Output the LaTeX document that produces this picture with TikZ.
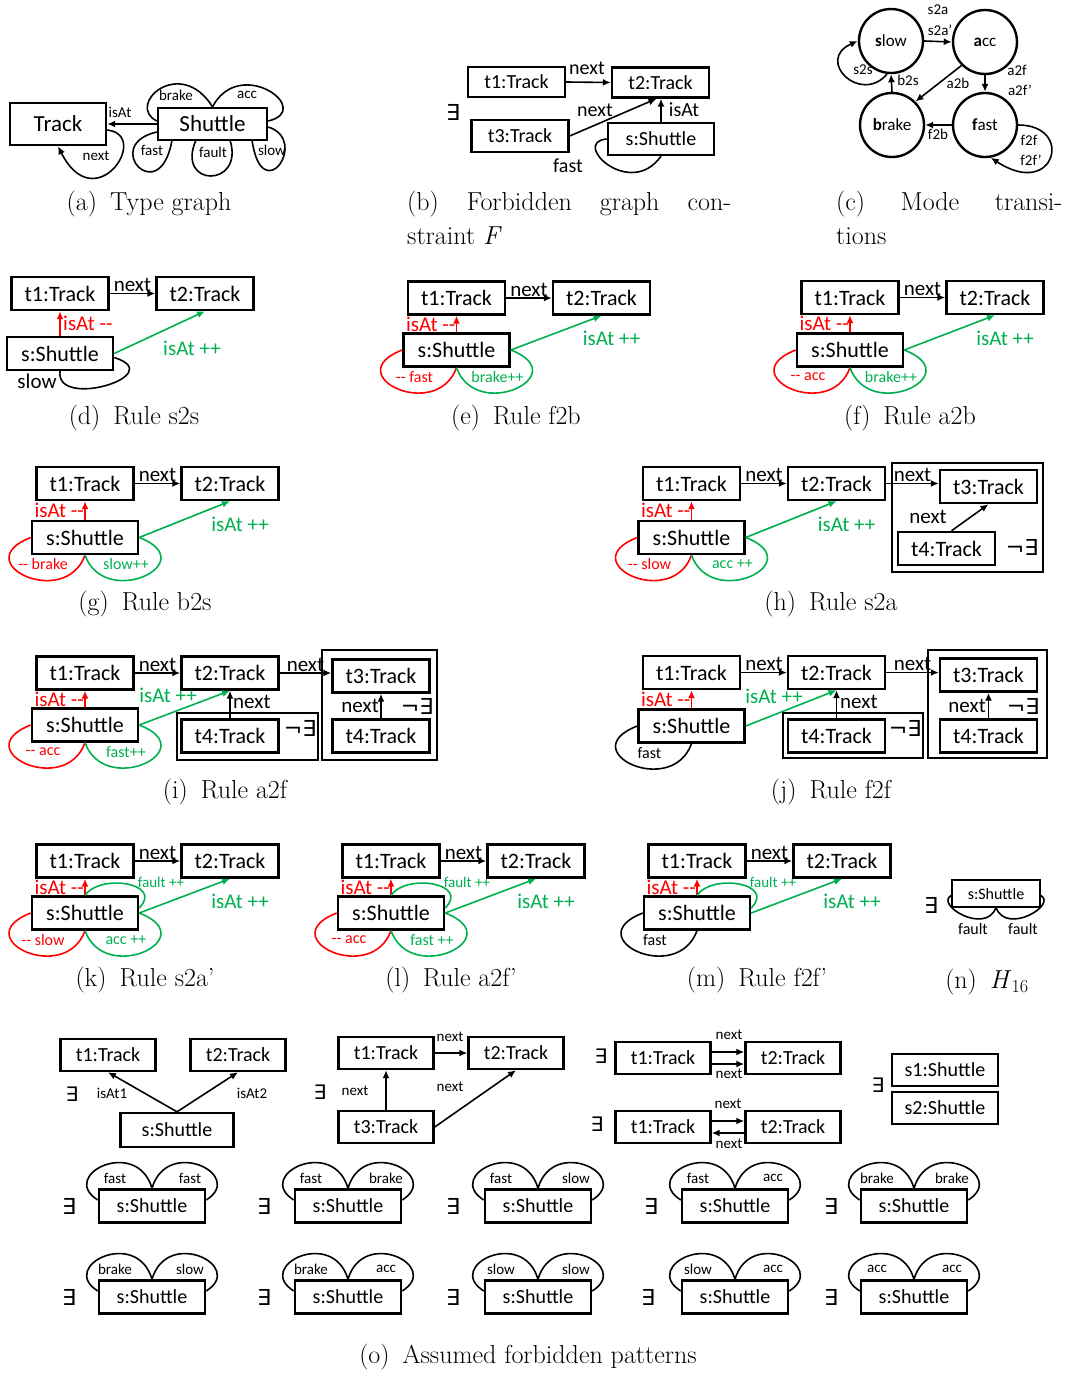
\documentclass[tikz,border=0pt]{standalone}
\usepackage{fontspec}
\newfontfamily\carl{Carlito}
\newfontfamily\djv{DejaVu Sans}
\usetikzlibrary{arrows.meta,calc}
\newcommand\fsz[1]{\fontsize{#1}{#1}\selectfont}
\newcommand\dmm{-\kern0pt-}
\definecolor{rd}{RGB}{255,0,0}
\definecolor{gn}{RGB}{0,176,80}
\tikzset{
 tb/.style={draw, line width=2.4pt, minimum width=97pt, minimum height=33pt, inner sep=0pt, font=\carl\fsz{22}},
 sb/.style={tb, minimum width=106pt},
 arr/.style={-{Latex[length=8pt,width=7pt]}, line width=1.6pt},
 lbl/.style={font=\carl\fsz{21}, inner sep=0pt},
 sml/.style={font=\carl\fsz{16}, inner sep=0pt},
 tinyl/.style={font=\carl\fsz{15}, inner sep=0pt},
 lp/.style={line width=1.6pt},
 captxt/.style={font=\fsz{26}, inner sep=0pt},
 nac/.style={draw, line width=2.4pt},
 exq/.style={font=\djv\fsz{22}, inner sep=0pt},
 circ/.style={circle, draw, line width=2.4pt, minimum size=64pt, inner sep=0pt, font=\carl\fsz{17}},
}
\newcommand\rbase[4]{%
 \node[tb] (#1t1) at (#2,-#3) {t1:Track};
 \node[tb] (#1t2) at ({#2+145},-#3) {t2:Track};
 \node[sb] (#1s) at (#2,-#4) {s:Shuttle};
 \draw[arr] (#1t1.east) -- (#1t2.west) node[lbl, midway, above=1pt] (#1nx) {next};
 \draw[arr, rd] (#1s.north) -- (#1t1.south);
 \draw[arr, gn] (#1s.east) -- (#1t2.south);
}
\newcommand\isl[1]{\node[lbl, text=rd, anchor=east] (#1ia) at ($(#1s.north)!.5!(#1t1.south)+(-1,0)$) {isAt \dmm};}
\newcommand\lowL[3]{%
 \draw[lp,#2] (#1.west) .. controls ($(#1.west)+(-65,-25)$) and ($(#1.south)+(-20,-55)$) .. (#1.south);
 \node[sml, text=#2] (#1ll) at ($(#1.south)+(-42,-9)$) {#3};}
\newcommand\lowR[3]{%
 \draw[lp,#2] (#1.south) .. controls ($(#1.south)+(20,-55)$) and ($(#1.east)+(65,-25)$) .. (#1.east);
 \node[sml, text=#2] (#1lr) at ($(#1.south)+(41,-9)$) {#3};}
\newcommand\upF[1]{%
 \draw[lp,gn] (#1.north) .. controls ($(#1.north)+(15,22)$) and ($(#1.east)+(25,30)$) .. ($(#1.east)+(0,5)$);
 \node[tinyl, text=gn] (#1lf) at ($(#1.north)+(76,13)$) {fault ++};}
\newcommand\fpat[6]{%
 \node[sb, font=\carl\fsz{20}] (#1) at (#2,-#3) {s:Shuttle};
 \node[exq] (#1e) at (#6,-#3) {∃};
 \draw[lp] ($(#1.west)+(0,6)$) .. controls ($(#1.west)+(-40,31)$) and ($(#1.north)+(-15,52)$) .. (#1.north);
 \draw[lp] (#1.north) .. controls ($(#1.north)+(15,52)$) and ($(#1.east)+(40,31)$) .. ($(#1.east)+(0,6)$);
 \node[tinyl] (#1a) at ($(#1)+(-37,28)$) {#4};
 \node[tinyl] (#1b) at ($(#1)+(38,28)$) {#5};}
\begin{document}
\begin{tikzpicture}[x=1pt,y=1pt]
\useasboundingbox[fill=white] (0,0) rectangle (1068,-1376);
% ---------- (a)
\node[draw, line width=2.4pt, minimum width=96pt, minimum height=42pt, inner sep=0pt, font=\carl\fsz{23}] (tr) at (58,-124) {Track};
\node[draw, line width=2.4pt, minimum width=109pt, minimum height=32pt, inner sep=0pt, font=\carl\fsz{23}] (sh) at (212.5,-124) {Shuttle};
\draw[arr] (sh.west) -- (tr.east);
\node[tinyl] (aisat) at (120,-112) {isAt};
\draw[arr] ([yshift=-6pt]tr.east) .. controls (152,-135) and (95,-220) .. (tr.south);
\node[tinyl] (anext) at (96,-156) {next};
\draw[lp] ([yshift=3pt]sh.west) .. controls (125,-105) and (180,-55) .. (sh.north);
\draw[lp] (sh.north) .. controls (240,-55) and (315,-110) .. ([yshift=3pt]sh.east);
\draw[lp] ([yshift=-8pt]sh.west) .. controls (100,-145) and (160,-210) .. (172,-140);
\draw[lp] (196,-140) .. controls (175,-188) and (245,-188) .. (230,-140);
\draw[lp] ([yshift=-3pt]sh.east) .. controls (310,-140) and (262,-210) .. (252,-140);
\node[tinyl] (abr) at (176,-95) {brake};
\node[tinyl] (aac) at (247,-95) {acc};
\node[tinyl] (afa) at (152,-150) {fast};
\node[tinyl] (afu) at (213,-152) {fault};
\node[tinyl] (asl) at (272,-150) {slow};
\node[captxt] (capa) at (149,-204) {(a)\enspace Type graph};
% ---------- (b)
\node[tb, minimum height=30pt, font=\carl\fsz{20}] (bt1) at (516.5,-82) {t1:Track};
\node[tb, minimum height=30pt, font=\carl\fsz{20}] (bt2) at (660.5,-82.5) {t2:Track};
\node[tb, minimum height=32pt, font=\carl\fsz{20}] (bt3) at (520,-136) {t3:Track};
\node[sb, minimum height=32pt, font=\carl\fsz{20}] (bs) at (661,-139) {s:Shuttle};
\node[exq] (bex) at (453,-112) {∃};
\draw[arr] (bt1.east) -- (bt2.west);
\node[font=\carl\fsz{20}, inner sep=0pt] (bn1) at (587,-68) {next};
\draw[arr] (bt3.east) -- ([xshift=-4pt]bt2.south);
\node[font=\carl\fsz{20}, inner sep=0pt] (bn2) at (595,-110) {next};
\draw[arr] (bs.north) -- (bs.north |- bt2.south);
\node[font=\carl\fsz{20}, inner sep=0pt] (bia) at (684,-110) {isAt};
\draw[lp] (bs.west) .. controls (570,-142) and (630,-200) .. (bs.south);
\node[font=\carl\fsz{20}, inner sep=0pt] (bfa) at (568,-166) {fast};
\node[captxt, anchor=west] (capb1) at (407,-204) {\makebox[324pt][s]{(b) Forbidden graph con-}};
\node[captxt, anchor=west] (capb2) at (407,-236) {straint \textit{F}};
% ---------- (c)
\node[circ] (cslow) at (891,-41) {\textbf{s}low};
\node[circ] (cacc) at (985,-42) {\textbf{a}cc};
\node[circ] (cbrake) at (892,-125) {\textbf{b}rake};
\node[circ] (cfast) at (985,-125) {\textbf{f}ast};
\draw[arr] (cslow.east) -- (cacc.west);
\draw[arr] (cacc.south) -- (cfast.north);
\draw[arr] (cacc.225) -- (cbrake.45);
\draw[arr] (cfast.west) -- (cbrake.east);
\draw[arr] (cbrake.north) -- (cslow.south);
\draw[arr] ([xshift=-4pt]cslow.south) .. controls (860,-105) and (815,-60) .. (cslow.west);
\draw[arr] (cfast.east) .. controls (1075,-125) and (1055,-200) .. (cfast.-80);
\node[tinyl] (cl1) at (938,-10) {s2a};
\node[tinyl] (cl2) at (940,-30) {s2a’};
\node[tinyl] (cl3) at (1017,-70) {a2f};
\node[tinyl] (cl4) at (1020,-90) {a2f’};
\node[tinyl] (cl5) at (958,-83) {a2b};
\node[tinyl] (cl6) at (938,-134) {f2b};
\node[tinyl] (cl7) at (908,-80) {b2s};
\node[tinyl] (cl8) at (863,-70) {s2s};
\node[tinyl] (cl9) at (1029,-140) {f2f};
\node[tinyl] (cl10) at (1031,-160) {f2f’};
\node[captxt, anchor=west] (capc1) at (836,-204) {\makebox[226pt][s]{(c) Mode transi-}};
\node[captxt, anchor=west] (capc2) at (836,-236) {tions};
% ---------- (d)
\rbase{d}{60}{293.5}{353.5}
\node[lbl, text=rd, anchor=west] (dia) at ($(ds.north)!.5!(dt1.south)+(3,0)$) {isAt \dmm};
\node[lbl, text=gn] (dib) at ($(dt2.south)+(-13,-37)$) {isAt ++};
\draw[lp] ([yshift=-4pt]ds.east) .. controls (170,-375) and (55,-410) .. (ds.south);
\node[lbl] (dsl) at (37,-381) {slow};
\node[captxt] (capd) at (134,-418) {(d)\enspace Rule s2s};
% ---------- (e)
\rbase{e}{456.5}{298}{350}
\isl{e}
\node[lbl, text=gn] (eib) at ($(et2.south)+(10,-23)$) {isAt ++};
\lowL{es}{rd}{\dmm{} fast}
\lowR{es}{gn}{brake++}
\node[captxt] (cape) at (516,-418) {(e)\enspace Rule f2b};
% ---------- (f)
\rbase{f}{850}{297.5}{350}
\isl{f}
\node[lbl, text=gn] (fib) at ($(ft2.south)+(10,-23)$) {isAt ++};
\lowL{fs}{rd}{\dmm{} acc}
\lowR{fs}{gn}{brake++}
\node[captxt] (capf) at (910,-418) {(f)\enspace Rule a2b};
% ---------- (g)
\rbase{g}{85}{483.5}{537.5}
\isl{g}
\node[lbl, text=gn] (gib) at ($(gt2.south)+(10,-23)$) {isAt ++};
\lowL{gs}{rd}{\dmm{} brake}
\lowR{gs}{gn}{slow++}
\node[captxt] (capg) at (145,-604) {(g)\enspace Rule b2s};
% ---------- (h)
\rbase{h}{691.5}{483.5}{537.5}
\isl{h}
\node[lbl, text=gn] (hib) at ($(ht2.south)+(10,-23)$) {isAt ++};
\lowL{hs}{rd}{\dmm{} slow}
\lowR{hs}{gn}{acc ++}
\draw[nac] (892,-463) rectangle (1043,-572);
\node[tb] (ht3) at (988.5,-486.5) {t3:Track};
\node[tb] (ht4) at (946.5,-548.5) {t4:Track};
\draw[arr] (ht2.east) -- (ht2.east -| ht3.west) node[lbl, midway, above=1pt] (hn2) {next};
\draw[arr] ([xshift=5pt]ht4.north) -- (ht3.south);
\node[lbl] (hn3) at (928,-517) {next};
\node[exq] (hne) at (1022,-547) {¬∃};
\node[captxt] (caph) at (831,-604) {(h)\enspace Rule s2a};
% ---------- (i)
\rbase{i}{85}{673}{725}
\isl{i}
\node[lbl, text=gn] (iib) at (168,-695) {isAt ++};
\lowL{is}{rd}{\dmm{} acc}
\lowR{is}{gn}{fast++}
\draw[nac] (177,-713) rectangle (318,-760);
\node[tb] (it4) at (230,-736) {t4:Track};
\draw[arr] (it4.north) -- (it2.south);
\node[lbl, anchor=west] (in3) at (233,-702) {next};
\node[exq] (ine1) at (300,-728) {¬∃};
\draw[nac] (322,-650) rectangle (437,-760);
\node[tb] (it3) at (381,-676) {t3:Track};
\node[tb] (it5) at (381,-736) {t4:Track};
\draw[arr] (it5.north) -- (it3.south);
\node[lbl, anchor=east] (in4) at (379,-706) {next};
\node[exq] (ine2) at (417,-706) {¬∃};
\draw[arr] (it2.east) -- (it2.east -| it3.west) node[lbl, midway, above=1pt] (in2) {next};
\node[captxt] (capi) at (225,-792) {(i)\enspace Rule a2f};
% ---------- (j)
\rbase{j}{691.5}{672.5}{726}
\isl{j}
\node[lbl, text=gn] (jib) at (774,-696) {isAt ++};
\lowL{js}{black}{fast}
\draw[nac] (783,-713) rectangle (923,-758);
\node[tb] (jt4) at (836.5,-736) {t4:Track};
\draw[arr] (jt4.north) -- (jt2.south);
\node[lbl, anchor=west] (jn3) at (840,-702) {next};
\node[exq] (jne1) at (905,-728) {¬∃};
\draw[nac] (928,-650) rectangle (1047,-758);
\node[tb] (jt3) at (988.5,-675) {t3:Track};
\node[tb] (jt5) at (988.5,-736) {t4:Track};
\draw[arr] (jt5.north) -- (jt3.south);
\node[lbl, anchor=east] (jn4) at (986,-706) {next};
\node[exq] (jne2) at (1023,-706) {¬∃};
\draw[arr] (jt2.east) -- (jt2.east -| jt3.west) node[lbl, midway, above=1pt] (jn2) {next};
\node[captxt] (capj) at (831,-792) {(j)\enspace Rule f2f};
% ---------- (k)
\rbase{k}{85}{861}{913}
\isl{k}
\node[lbl, text=gn] (kib) at ($(kt2.south)+(10,-23)$) {isAt ++};
\lowL{ks}{rd}{\dmm{} slow}
\lowR{ks}{gn}{acc ++}
\upF{ks}
\node[captxt] (capk) at (145,-980) {(k)\enspace Rule s2a’};
% ---------- (l)
\rbase{l}{391}{861}{913}
\isl{l}
\node[lbl, text=gn] (lib) at ($(lt2.south)+(10,-23)$) {isAt ++};
\lowL{ls}{rd}{\dmm{} acc}
\lowR{ls}{gn}{fast ++}
\upF{ls}
\node[captxt] (capl) at (451,-980) {(l)\enspace Rule a2f’};
% ---------- (m)
\rbase{m}{697}{861}{913}
\isl{m}
\node[lbl, text=gn] (mib) at ($(mt2.south)+(10,-23)$) {isAt ++};
\lowL{ms}{black}{fast}
\upF{ms}
\node[captxt] (capm) at (757,-980) {(m)\enspace Rule f2f’};
% ---------- (n)
\node[draw, line width=1.8pt, minimum width=88pt, minimum height=27pt, inner sep=0pt, font=\carl\fsz{16}] (ns) at (996,-893.5) {s:Shuttle};
\node[exq] (nex) at (931,-905) {∃};
\draw[lp] ([yshift=-2pt]ns.west) .. controls (935,-905) and (985,-935) .. (ns.south);
\draw[lp] (ns.south) .. controls (1007,-935) and (1057,-905) .. ([yshift=-2pt]ns.east);
\node[sml] (nf1) at (973,-929) {fault};
\node[sml] (nf2) at (1023,-929) {fault};
\node[captxt] (capn) at (987,-982) {(n)\enspace \textit{H}\textsubscript{16}};
% ---------- (o) row 1
\tikzset{ob/.style={tb, minimum width=95pt, minimum height=32pt, font=\carl\fsz{20}}}
\node[ob] (o1t1) at (108,-1055) {t1:Track};
\node[ob] (o1t2) at (238,-1055) {t2:Track};
\node[ob, minimum width=113pt, minimum height=34pt] (o1s) at (177,-1130) {s:Shuttle};
\node[exq, font=\djv\fsz{20}] (o1e) at (72,-1094) {∃};
\draw[arr] (o1s.north) -- (o1t1.south);
\draw[arr] (o1s.north) -- (o1t2.south);
\node[tinyl] (o1l1) at (112,-1093) {isAt1};
\node[tinyl] (o1l2) at (252,-1093) {isAt2};
\node[ob] (o2t1) at (386,-1053) {t1:Track};
\node[ob] (o2t2) at (516,-1053) {t2:Track};
\node[ob] (o2t3) at (386,-1127) {t3:Track};
\node[exq, font=\djv\fsz{20}] (o2e) at (320,-1092) {∃};
\draw[arr] (o2t1.east) -- (o2t2.west);
\draw[arr] (o2t3.north) -- (o2t1.south);
\draw[arr] (o2t3.east) -- (o2t2.south);
\node[tinyl] (o2l1) at (450,-1037) {next};
\node[tinyl] (o2l2) at (355,-1091) {next};
\node[tinyl] (o2l3) at (450,-1087) {next};
\node[ob] (o3t1) at (663,-1058) {t1:Track};
\node[ob] (o3t2) at (793,-1058) {t2:Track};
\node[exq, font=\djv\fsz{20}] (o3e) at (601,-1056) {∃};
\draw[arr] ([yshift=6pt]o3t1.east) -- ([yshift=6pt]o3t2.west);
\draw[arr] ([yshift=-6pt]o3t1.east) -- ([yshift=-6pt]o3t2.west);
\node[tinyl] (o3l1) at (729,-1035) {next};
\node[tinyl] (o3l2) at (729,-1074) {next};
\node[ob] (o4t1) at (663,-1127) {t1:Track};
\node[ob] (o4t2) at (793,-1127) {t2:Track};
\node[exq, font=\djv\fsz{20}] (o4e) at (597,-1124) {∃};
\draw[arr] ([yshift=6pt]o4t1.east) -- ([yshift=6pt]o4t2.west);
\draw[arr] ([yshift=-6pt]o4t2.west) -- ([yshift=-6pt]o4t1.east);
\node[tinyl] (o4l1) at (728,-1104) {next};
\node[tinyl] (o4l2) at (729,-1144) {next};
\node[ob, minimum width=106pt] (o5s1) at (945,-1070) {s1:Shuttle};
\node[ob, minimum width=106pt] (o5s2) at (945,-1108) {s2:Shuttle};
\node[exq, font=\djv\fsz{20}] (o5e) at (878,-1085) {∃};
% ---------- (o) rows 2 and 3
\fpat{p1}{152}{1206}{fast}{fast}{69}
\fpat{p2}{348}{1206}{fast}{brake}{264}
\fpat{p3}{538}{1206}{fast}{slow}{453}
\fpat{p4}{735}{1206}{fast}{acc}{651}
\fpat{p5}{914}{1206}{brake}{brake}{831}
\fpat{q1}{152}{1297}{brake}{slow}{69}
\fpat{q2}{348}{1297}{brake}{acc}{264}
\fpat{q3}{538}{1297}{slow}{slow}{453}
\fpat{q4}{735}{1297}{slow}{acc}{648}
\fpat{q5}{914}{1297}{acc}{acc}{831}
\node[captxt] (capo) at (528,-1357) {(o)\enspace Assumed forbidden patterns};
\end{tikzpicture}
\end{document}
